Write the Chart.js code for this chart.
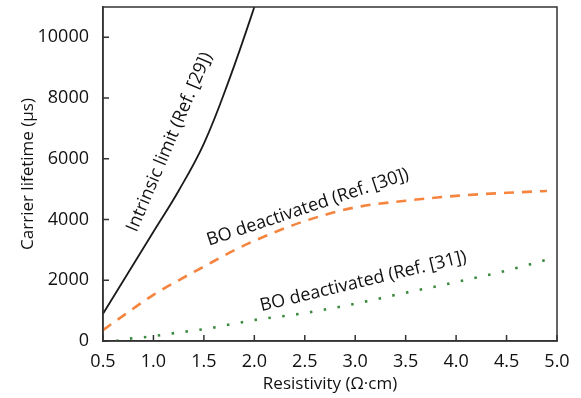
<!DOCTYPE html>
<html>
<head>
<meta charset="utf-8">
<script src="https://cdn.jsdelivr.net/npm/chart.js@4.4.1/dist/chart.umd.min.js"></script>
<style>
  html, body { margin: 0; padding: 0; background: #fff; }
  #wrap { width: 581px; height: 398px; }
</style>
</head>
<body>
<div id="wrap"><canvas id="rel1" width="581" height="398"></canvas></div>
<script>
// resistivity (Ohm cm) and lifetime (us)
var rho_intr = [0.5, 0.75, 1.0, 1.25, 1.5, 1.75, 2.0, 2.1];
var tau_intr = [900, 2250, 3600, 4950, 6500, 8600, 11000, 12100];

var rho_bo30 = [0.5, 0.75, 1.0, 1.25, 1.5, 1.75, 2.0, 2.5, 3.0, 3.5, 4.0, 4.5, 4.9];
var tau_bo30 = [360, 950, 1520, 2000, 2450, 2900, 3300, 3950, 4400, 4620, 4780, 4880, 4940];

var rho_bo31 = [0.63, 0.75, 1.0, 1.25, 1.5, 2.0, 2.5, 3.0, 3.5, 4.0, 4.5, 4.9];
var tau_bo31 = [0, 70, 160, 280, 390, 690, 920, 1230, 1590, 1940, 2320, 2680];

var x_ticks = [0.5, 1.0, 1.5, 2.0, 2.5, 3.0, 3.5, 4.0, 4.5, 5.0];
var y_ticks = [0, 2000, 4000, 6000, 8000, 10000];

// curve labels: text, rho, tau at centre, angle (deg)
var notes = [
    ['Intrinsic limit (Ref. [29])', 1.16, 6550, -67],
    ['BO deactivated (Ref. [30])', 2.53, 4400, -18.5],
    ['BO deactivated (Ref. [31])', 3.08, 1960, -13.5]
];

function pts(xs, ys){
    var out = [];
    for (var i = 0; i < xs.length; i++) out.push({x: xs[i], y: ys[i]});
    return out;
}

var FONT = '"Open Sans", "Noto Sans", sans-serif';

// box round the plot + inward ticks + curve labels
var frame = {
    id: 'frame',
    afterDraw: function(chart){
        var ctx = chart.ctx, a = chart.chartArea;
        var sx = chart.scales.x, sy = chart.scales.y;
        ctx.save();
        ctx.strokeStyle = '#333';
        ctx.lineWidth = 1.5;
        ctx.strokeRect(a.left, a.top, a.right - a.left, a.bottom - a.top);
        ctx.beginPath();
        x_ticks.forEach(function(v){
            var px = sx.getPixelForValue(v);
            ctx.moveTo(px, a.bottom); ctx.lineTo(px, a.bottom - 6);
        });
        y_ticks.forEach(function(v){
            var py = sy.getPixelForValue(v);
            ctx.moveTo(a.left, py); ctx.lineTo(a.left + 6, py);
        });
        ctx.stroke();
        ctx.fillStyle = '#111';
        ctx.font = '18px ' + FONT;
        ctx.textAlign = 'center';
        ctx.textBaseline = 'middle';
        notes.forEach(function(n){
            ctx.save();
            ctx.translate(sx.getPixelForValue(n[1]), sy.getPixelForValue(n[2]));
            ctx.rotate(n[3] * Math.PI / 180);
            ctx.fillText(n[0], 0, 0);
            ctx.restore();
        });
        ctx.restore();
    }
};

var rel1 = new Chart(document.getElementById('rel1'), {
    type: 'line',
    data: {
        datasets: [{
            label: 'Intrinsic limit (Ref. [29])',
            data: pts(rho_intr, tau_intr),
            borderColor: '#1a1a1a',
            borderWidth: 1.8,
            pointRadius: 0,
            tension: 0.4
        }, {
            label: 'BO deactivated (Ref. [30])',
            data: pts(rho_bo30, tau_bo30),
            borderColor: '#f5843f',
            borderWidth: 2.6,
            borderDash: [10, 8],
            pointRadius: 0,
            cubicInterpolationMode: 'monotone'
        }, {
            label: 'BO deactivated (Ref. [31])',
            data: pts(rho_bo31, tau_bo31),
            borderColor: '#3a8a3e',
            borderWidth: 2.6,
            borderDash: [2.5, 11.5],
            pointRadius: 0,
            cubicInterpolationMode: 'monotone'
        }]
    },
    options: {
        responsive: false,
        animation: false,
        layout: { padding: { left: 0, top: 7, right: 24, bottom: 0 } },
        plugins: { legend: { display: false }, tooltip: { enabled: false } },
        scales: {
            x: {
                type: 'linear',
                min: 0.5, max: 5.0,
                afterFit: function(s){ s.height = 57; },
                afterBuildTicks: function(s){ s.ticks = x_ticks.map(function(v){ return {value: v}; }); },
                grid: { display: false },
                border: { display: true, color: '#333', width: 1.5 },
                ticks: {
                    color: '#111', padding: 2,
                    font: { size: 18, family: FONT },
                    maxRotation: 0,
                    callback: function(v){ return v.toFixed(1); }
                },
                title: {
                    display: true, text: 'Resistivity (Ω·cm)', color: '#111',
                    font: { size: 17, family: FONT }, padding: { top: 0 }
                }
            },
            y: {
                min: 0, max: 11000,
                afterFit: function(s){ s.width = 103; s.paddingTop = 0; s.paddingBottom = 0; },
                afterBuildTicks: function(s){ s.ticks = y_ticks.map(function(v){ return {value: v}; }); },
                grid: { display: false },
                border: { display: true, color: '#333', width: 1.5 },
                ticks: {
                    color: '#111', padding: 6,
                    font: { size: 18, family: FONT },
                    callback: function(v){ return String(v); }
                },
                title: {
                    display: true, text: 'Carrier lifetime (μs)', color: '#111',
                    font: { size: 17, family: FONT }, padding: { top: 18, bottom: 0 }
                }
            }
        }
    },
    plugins: [frame]
});
</script>
</body>
</html>
